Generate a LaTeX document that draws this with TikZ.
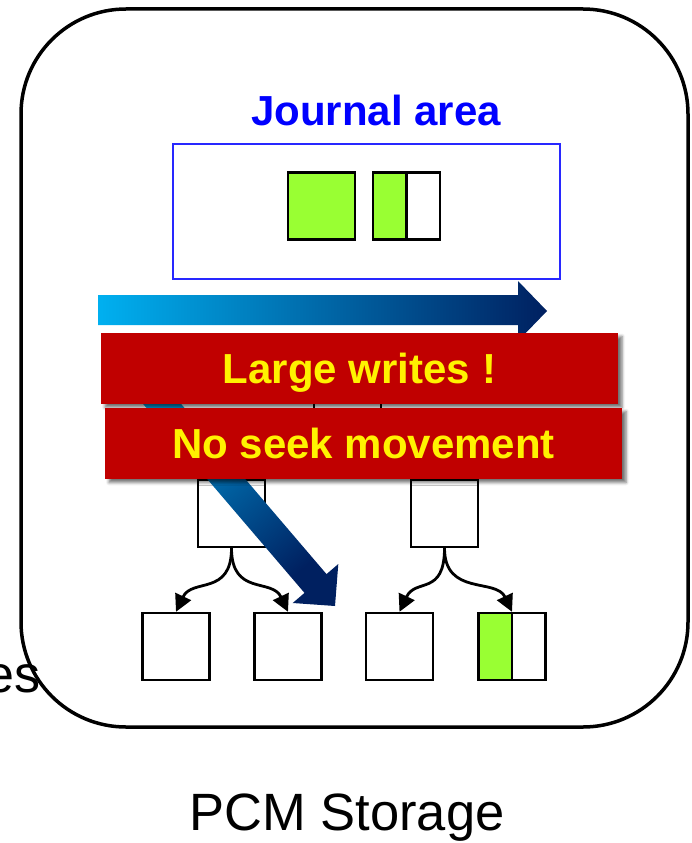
\documentclass[tikz,border=0pt]{standalone}
\usepackage{fontspec}
\setmainfont{Liberation Sans}
\usetikzlibrary{arrows.meta,shadows.blur}
\definecolor{leaf}{RGB}{153,255,51}
\definecolor{banner}{RGB}{192,0,0}
\definecolor{cyanstart}{RGB}{0,176,240}
\definecolor{navyend}{RGB}{0,32,96}
\definecolor{journalblue}{RGB}{40,40,255}

\begin{document}
\begin{tikzpicture}[x=1pt,y=-1pt,
  block/.style={draw, line width=2.4pt, minimum width=67pt, minimum height=67pt, inner sep=0pt, fill=white},
  halfblock/.style={block, path picture={\fill[leaf] (path picture bounding box.south west) rectangle (path picture bounding box.north);}},
  link/.style={line width=2.8pt, -{Triangle[width=17pt,length=17pt]}},
  bannerbox/.style={fill=banner, minimum width=517pt, minimum height=71pt, inner sep=0pt,
    text=yellow, font=\fontsize{42}{50}\selectfont\bfseries, text height=30pt, text depth=0pt,
    blur shadow={shadow xshift=4pt, shadow yshift=-4pt, shadow blur radius=3pt, shadow opacity=55}},
]
\useasboundingbox (0,0) rectangle (691,843);

% cut-off word on the left
\node[anchor=base east, inner sep=0pt, font=\fontsize{52}{60}\selectfont] (cut) at (41,692) {es};

% storage outline
\draw[line width=3.5pt, rounded corners=105pt] (21,9) rectangle (688,727);

% journal area
\node[anchor=base, inner sep=0pt, text=blue, font=\fontsize{42}{50}\selectfont\bfseries] (jtitle) at (376,125) {Journal area};
\node[draw=journalblue, line width=1.2pt, minimum width=387pt, minimum height=135pt, inner sep=0pt] (journal) at (366.5,211.5) {};
\node[block, fill=leaf] (jfull) at (321.5,206) {};
\node[halfblock] (jhalf) at (406.5,206) {};
\draw[line width=2.4pt] (jhalf.north) -- (jhalf.south);

% tree of blocks
\node[block] (root) at (347.5,405) {};
\node[block] (pl) at (231.5,513.5) {};
\node[block] (pr) at (444.5,513.5) {};
\node[block] (c1) at (176,646.5) {};
\node[block] (c2) at (288,646.5) {};
\node[block] (c3) at (399.5,646.5) {};
\node[halfblock] (c4) at (512,646.5) {};
\draw[line width=2.4pt] (c4.north) -- (c4.south);

\draw[link] (pl.south) .. controls +(0,48) and +(16,-34) .. (c1.north);
\draw[link] (pl.south) .. controls +(0,48) and +(-16,-34) .. (c2.north);
\draw[link] (pr.south) .. controls +(0,48) and +(16,-34) .. (c3.north);
\draw[link] (pr.south) .. controls +(0,48) and +(-16,-34) .. (c4.north);

% diagonal gradient arrow
\shade[top color=cyanstart, bottom color=navyend, shading angle=40.5]
  (105,359.4) -- (127,340.6) -- (326.5,574.1) -- (338.3,564) -- (335,606)
  -- (292.7,603) -- (304.5,592.9) -- cycle;

% horizontal gradient arrow
\shade[left color=cyanstart, right color=navyend]
  (98,295) -- (518,295) -- (518,281) -- (547,311) -- (518,341) -- (518,325) -- (98,325) -- cycle;

% banners
\node[bannerbox] (large) at (359.5,368) {Large writes !};
\node[bannerbox] (noseek) at (363.5,443) {No seek movement};

% caption
\node[anchor=base, inner sep=0pt, font=\fontsize{52.5}{60}\selectfont] (pcm) at (347,830) {PCM Storage};
\end{tikzpicture}
\end{document}
